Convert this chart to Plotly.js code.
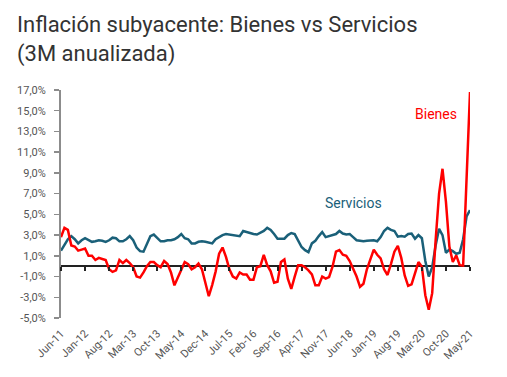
<!DOCTYPE html>
<html>
<head>
<meta charset="utf-8">
<script src="https://cdn.plot.ly/plotly-3.0.1.min.js"></script>
<style>html,body{margin:0;padding:0;background:#fff;}#chart{width:507px;height:377px;}</style>
</head>
<body>
<div id="chart"></div>
<script>
const months = [
"Jun-11","Jul-11","Aug-11","Sep-11","Oct-11","Nov-11","Dec-11",
"Jan-12","Feb-12","Mar-12","Apr-12","May-12","Jun-12","Jul-12","Aug-12","Sep-12","Oct-12","Nov-12","Dec-12",
"Jan-13","Feb-13","Mar-13","Apr-13","May-13","Jun-13","Jul-13","Aug-13","Sep-13","Oct-13","Nov-13","Dec-13",
"Jan-14","Feb-14","Mar-14","Apr-14","May-14","Jun-14","Jul-14","Aug-14","Sep-14","Oct-14","Nov-14","Dec-14",
"Jan-15","Feb-15","Mar-15","Apr-15","May-15","Jun-15","Jul-15","Aug-15","Sep-15","Oct-15","Nov-15","Dec-15",
"Jan-16","Feb-16","Mar-16","Apr-16","May-16","Jun-16","Jul-16","Aug-16","Sep-16","Oct-16","Nov-16","Dec-16",
"Jan-17","Feb-17","Mar-17","Apr-17","May-17","Jun-17","Jul-17","Aug-17","Sep-17","Oct-17","Nov-17","Dec-17",
"Jan-18","Feb-18","Mar-18","Apr-18","May-18","Jun-18","Jul-18","Aug-18","Sep-18","Oct-18","Nov-18","Dec-18",
"Jan-19","Feb-19","Mar-19","Apr-19","May-19","Jun-19","Jul-19","Aug-19","Sep-19","Oct-19","Nov-19","Dec-19",
"Jan-20","Feb-20","Mar-20","Apr-20","May-20","Jun-20","Jul-20","Aug-20","Sep-20","Oct-20","Nov-20","Dec-20",
"Jan-21","Feb-21","Mar-21","Apr-21","May-21"
];

const bienes = [
2.8, 3.7, 3.5, 2.0, 1.9, 1.5, 1.6,
1.7, 1.0, 1.0, 0.6, 0.8, 0.7, 0.6, -0.3, -0.55, -0.4, 0.6,
0.3, 0.6, 0.3, -0.1, -1.0, -1.1, -0.6, 0.0, 0.4, 0.4, 0.1, -0.1,
0.5, 0.2, -0.6, -1.85, -1.1, -0.3, 0.4, 0.2, -0.3, -0.1, 0.25, -0.3,
-1.5, -2.9, -1.8, -0.5, 1.2, 1.8, 0.9, -0.3, -1.0, -1.2, -0.6, -0.8,
-0.8, -1.3, -1.3, -0.1, 0.0, 1.1, 0.1, -0.5, -1.6, -1.5, 0.4, 0.65,
-1.2, -2.2, -1.0, 0.1, 0.1, -0.1, -0.4, -0.8, -1.85, -1.85, -1.0, -1.2,
-1.05, -0.05, 1.4, 1.55, 1.1, 1.0, 0.5, -0.2, -1.0, -2.0, -1.7, -0.3,
0.7, 1.6, 1.1, 0.75, -0.3, -0.85, 0.2, 1.4, 1.95, 0.8, -0.9, -1.9,
-1.75, -0.6, 0.4, -0.05, -2.8, -4.2, -2.6, 2.5, 7.0, 9.4, 6.2, 1.9,
0.4, 1.05, 0.1, 0.05, 8.5, 16.8
];

const servicios = [
1.5, 2.0, 2.6, 2.9, 2.6, 2.2, 2.5,
2.7, 2.5, 2.35, 2.4, 2.5, 2.45, 2.35, 2.5, 2.75, 2.7, 2.4,
2.4, 2.6, 2.9, 2.5, 1.8, 1.45, 1.4, 2.2, 2.9, 3.05, 2.7, 2.4,
2.4, 2.5, 2.5, 2.6, 2.8, 3.1, 2.7, 2.6, 2.2, 2.2, 2.35, 2.4,
2.35, 2.3, 2.2, 2.6, 2.8, 3.0, 3.1, 3.05, 3.0, 2.95, 2.9, 3.4,
3.3, 3.15, 3.1, 3.05, 3.2, 3.4, 3.7, 3.5, 3.1, 2.65, 2.65, 2.65,
3.0, 3.2, 3.1, 2.5, 1.85, 1.55, 1.35, 2.2, 2.45, 2.9, 3.3, 2.8,
2.9, 2.95, 3.1, 3.4, 3.15, 3.05, 3.1, 2.8, 2.5, 2.45, 2.4, 2.45,
2.45, 2.5, 2.4, 2.8, 3.4, 3.7, 3.5, 3.4, 2.85, 2.9, 2.85, 3.1,
3.15, 2.65, 3.0, 2.7, 0.5, -1.0, -0.1, 2.0, 3.6, 3.0, 1.3, 1.6,
1.45, 1.2, 1.3, 2.6, 4.8, 5.4
];

const xTickVals = ["Jun-11","Jan-12","Aug-12","Mar-13","Oct-13","May-14","Dec-14","Jul-15","Feb-16","Sep-16","Apr-17","Nov-17","Jun-18","Jan-19","Aug-19","Mar-20","Oct-20","May-21"];
const yTickVals = [-5, -3, -1, 1, 3, 5, 7, 9, 11, 13, 15, 17];
const yTickText = ["-5,0%","-3,0%","-1,0%","1,0%","3,0%","5,0%","7,0%","9,0%","11,0%","13,0%","15,0%","17,0%"];

const redColor = "#ff0000";
const tealColor = "#1a6079";
const font = "Roboto, 'Liberation Sans', sans-serif";

const traces = [
  {x: months, y: servicios, type: "scatter", mode: "lines", name: "Servicios",
   line: {color: tealColor, width: 2.5}, xaxis: "x", yaxis: "y", hoverinfo: "skip"},
  {x: months, y: bienes, type: "scatter", mode: "lines", name: "Bienes",
   line: {color: redColor, width: 2.5}, xaxis: "x2", yaxis: "y", hoverinfo: "skip"}
];

const yMin = -5, yMax = 17;
const W = 507, H = 377, mL = 61, mR = 37, mT = 90, mB = 59;
const plotW = W - mL - mR, plotH = H - mT - mB;

const layout = {
  width: W, height: H,
  margin: {l: mL, r: mR, t: mT, b: mB},
  paper_bgcolor: "#ffffff", plot_bgcolor: "#ffffff",
  showlegend: false,
  font: {family: font, color: "#555555", size: 11},
  xaxis: {
    type: "category", range: [0, months.length - 1],
    tickmode: "array", tickvals: xTickVals, ticktext: xTickVals,
    tickangle: -45, ticks: "", showline: false, showgrid: false, zeroline: false,
    tickfont: {size: 11, color: "#555555"}, ticklabelstandoff: 6
  },
  xaxis2: {
    type: "category", overlaying: "x", anchor: "free",
    position: (0 - yMin) / (yMax - yMin),
    range: [0, months.length - 1],
    tickmode: "array", tickvals: xTickVals, showticklabels: false,
    ticks: "outside", ticklen: 4, tickwidth: 2, tickcolor: "#222222",
    showline: false, showgrid: false, zeroline: false
  },
  yaxis: {
    range: [yMin, yMax], tickmode: "array", tickvals: yTickVals, ticktext: yTickText,
    showline: true, linecolor: "#8c8c8c", linewidth: 2,
    ticks: "outside", ticklen: 5, tickwidth: 1.5, tickcolor: "#8c8c8c",
    showgrid: false, zeroline: true, zerolinecolor: "#222222", zerolinewidth: 2.5,
    tickfont: {size: 11, color: "#555555"}, ticklabelstandoff: 6
  },
  annotations: [
    {xref: "paper", yref: "paper", x: (15 - mL) / plotW, y: 1 + (mT - 10) / plotH,
     xanchor: "left", yanchor: "top", align: "left", showarrow: false,
     text: "Inflación subyacente: Bienes vs Servicios<br>(3M anualizada)",
     font: {family: font, size: 22, color: "#333333"}},
    {x: "Jul-20", y: 14.7, xref: "x", yref: "y", text: "Bienes", showarrow: false,
     font: {size: 14, color: redColor, family: font}},
    {x: "Jul-18", y: 6.1, xref: "x", yref: "y", text: "Servicios", showarrow: false,
     font: {size: 14, color: tealColor, family: font}}
  ]
};

Plotly.newPlot("chart", traces, layout, {displayModeBar: false, staticPlot: true});
</script>
</body>
</html>
